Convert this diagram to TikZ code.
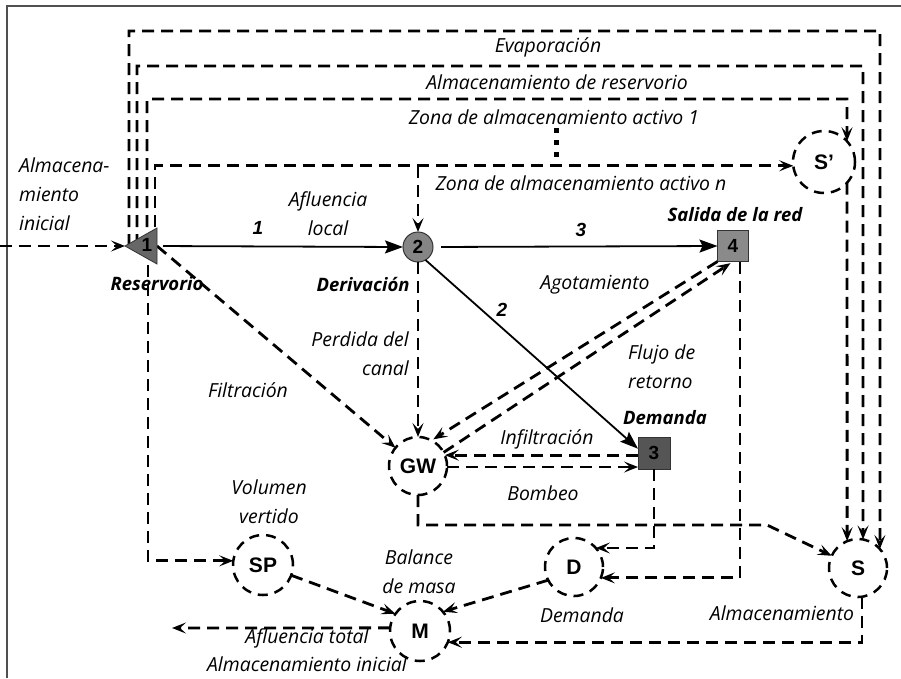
\documentclass[tikz,border=0pt]{standalone}
\usepackage{fontspec}
\setmainfont{Open Sans}
\newfontfamily\nodefont{Liberation Sans}
\usetikzlibrary{arrows.meta}
\definecolor{framec}{HTML}{505050}
\definecolor{hubfill}{HTML}{858585}
\definecolor{resfill}{HTML}{676767}
\definecolor{demfill}{HTML}{555555}
\definecolor{outfill}{HTML}{8A8A8A}
\begin{document}
\begin{tikzpicture}[x=1pt,y=-1pt,
  lbl/.style={font=\fontsize{19.4}{29}\selectfont\itshape, inner sep=0, align=center},
  blbl/.style={font=\fontsize{18.5}{29}\selectfont\bfseries\itshape, inner sep=0},
  num/.style={font=\nodefont\fontsize{19}{20}\selectfont\bfseries\itshape, inner sep=0},
  pool/.style={circle, draw, line width=2.5pt, dash pattern=on 10pt off 7pt, fill=white,
    minimum size=58pt, inner sep=0, outer sep=0,
    font=\nodefont\fontsize{21}{21}\selectfont\bfseries},
  hub/.style={circle, draw=black!80, line width=1pt, fill=hubfill, minimum size=30pt,
    inner sep=0, outer sep=0, font=\nodefont\fontsize{19}{19}\selectfont\bfseries},
  box/.style={rectangle, draw=black!80, line width=1pt, minimum size=31pt,
    inner sep=0, outer sep=0, font=\nodefont\fontsize{19}{19}\selectfont\bfseries},
  flow/.style={line width=2.8pt, dash pattern=on 12pt off 7pt,
    -{Stealth[length=14pt, width=11pt, inset=6pt]}},
  link/.style={line width=1.8pt, -{Stealth[length=18pt, width=13pt, inset=3pt]}}]

\useasboundingbox (0,0) rectangle (901,678);
\draw[framec, line width=1.2pt] (901,6) -- (7,6) -- (7,678);

% ---------- nodes ----------
\node[minimum width=32pt, minimum height=36pt, inner sep=0, outer sep=0] (n1) at (141,246) {};
\node[hub] (n2) at (418,247) {2};
\node[box, fill=outfill] (n4) at (733,246) {4};
\node[box, fill=demfill, minimum size=32pt] (n3) at (654,453) {3};
\node[pool, minimum size=62pt] (Sp) at (824,162) {S’};
\node[pool] (S) at (858,568) {S};
\node[pool] (GW) at (418,466) {GW};
\node[pool, minimum size=60pt] (SP) at (263,565) {SP};
\node[pool, minimum size=60pt] (M) at (420,631) {M};
\node[pool] (D) at (574,567) {D};
\coordinate (src) at (0,246);
\coordinate (zn) at (418,166);
\coordinate (out) at (172,628);

% ---------- reservoir storage links ----------
\draw[flow] ([xshift=-12pt]n1.center) |- (880,31) -- (S.41);
\draw[flow] ([xshift=-4pt]n1.center) |- (863,66) -- (S.80);
\draw[flow] ([xshift=6pt]n1.center) |- (847,99) -- (Sp.42);
\draw[flow] ([xshift=14pt]n1.center) |- (Sp.187);
\draw[flow] (zn) -- (n2.north);
\draw[line width=5pt, dash pattern=on 5pt off 7pt] (556,128) -- (556,158);
\draw[flow] (Sp.318) -- (S.112);
\draw[flow] (src) -- (n1.west);
\draw[flow] ([xshift=7pt]n1.center) |- (SP.172);
\draw[flow] (n1.east) -- (GW.141);

% reservoir triangle drawn over the line ends
\filldraw[fill=resfill, draw=black!80, line width=0.8pt]
  (n1.west) -- (n1.north east) -- (n1.south east) -- cycle;
\node[font=\nodefont\fontsize{19}{19}\selectfont\bfseries, inner sep=0] (n1t)
  at ([xshift=6pt,yshift=1pt]n1.center) {1};

% ---------- links ----------
\draw[link, shorten <=6pt] (n1.east) -- (n2.west);
\draw[link, shorten <=8pt] (n2.east) -- (n4.west);
\draw[link] (n2.-60) -- (n3.165);

\draw[flow] (n2.south) -- (GW.north);
\draw[flow, shorten >=2pt] (n4.south west) -- (GW.62);
\draw[flow, shorten >=3pt] (GW.28) -- (n4.south);
\draw[flow] (n3.west |- GW.22) -- (GW.22);
\draw[flow] (GW.358) -- (GW.358 -| n3.west);
\draw[flow] (n3.south) |- (D.41);
\draw[flow] ([xshift=7pt]n4.south) |- (D.338);
\draw[flow] (GW.south) |- (767,525) -- (S.155);
\draw[flow] (D.207) -- (M.40);
\draw[flow] (SP.-20) -- (M.145);
\draw[flow] (S.278) |- (M.338);
\draw[flow] (M.174) -- (out);

% ---------- labels ----------
\node[lbl, align=left, anchor=west] (tInit) at (19,194) {Almacena-\\miento\\inicial};
\node[lbl] (tEvap) at (548,47) {Evaporación};
\node[lbl] (tRes) at (557,82) {Almacenamiento de reservorio};
\node[lbl] (tZ1) at (554,117) {Zona de almacenamiento activo 1};
\node[lbl] (tZn) at (581,183) {Zona de almacenamiento activo n};
\node[lbl] (tLocal) at (328,214) {Afluencia\\local};
\node[num] (tOne) at (258,228) {1};
\node[num] (tThree) at (581,230) {3};
\node[num] (tTwo) at (502,310) {2};
\node[blbl] (tResv) at (157,284) {Reservorio};
\node[blbl] (tDeriv) at (363,284) {Derivación};
\node[blbl] (tOut) at (735,215) {Salida de la red};
\node[blbl] (tDemB) at (665,418) {Demanda};
\node[lbl] (tAgot) at (595,285) {Agotamiento};
\node[lbl, align=right, anchor=east] (tCanal) at (409,354) {Perdida del\\canal};
\node[lbl] (tFilt) at (248,390) {Filtración};
\node[lbl, align=left, anchor=west] (tRet) at (628,367) {Flujo de\\retorno};
\node[lbl] (tInf) at (547,439) {Infiltración};
\node[lbl] (tBomb) at (543,493) {Bombeo};
\node[lbl] (tVert) at (269,502) {Volumen\\vertido};
\node[lbl] (tBal) at (419,572) {Balance\\de masa};
\node[lbl] (tDem) at (582,615) {Demanda};
\node[lbl] (tAlm) at (782,613) {Almacenamiento};
\node[lbl] (tTot) at (307,638) {Afluencia total};
\node[lbl] (tAlmI) at (307,664) {Almacenamiento inicial};
\end{tikzpicture}
\end{document}
